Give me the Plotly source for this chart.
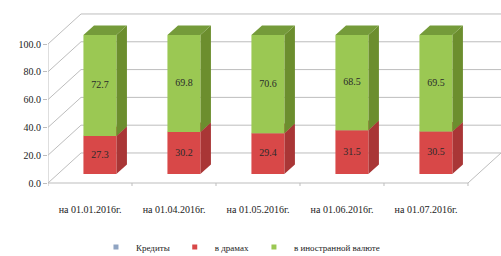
import plotly.graph_objects as go

categories = ["на 01.01.2016г.", "на 01.04.2016г.", "на 01.05.2016г.", "на 01.06.2016г.", "на 01.07.2016г."]
amd_values = [27.3, 30.2, 29.4, 31.5, 30.5]
fx_values = [72.7, 69.8, 70.6, 68.5, 69.5]
series_names = ["Кредиты", "в драмах", "в иностранной валюте"]
y_ticks = [0, 20, 40, 60, 80, 100]

# 3D projection parameters (in axis units)
DX = 0.393   # depth shift along x (category units)
DY = 21.6    # depth shift along y (value units)
F1, F2 = 0.30, 0.62   # bar front/back depth fractions
HW = 0.196   # bar half width

RED_FRONT, RED_SIDE = "#D84848", "#A93636"
GRN_FRONT, GRN_SIDE, GRN_TOP = "#9BC853", "#6C8E2E", "#759B3A"
GRID = "#BDBDBD"
FONT = "Liberation Serif"

def proj(x, v, d):
    return x + d * DX, v + d * DY

def poly(points):
    xs, ys = [], []
    for p in points:
        px, py = proj(*p)
        xs.append(px); ys.append(py)
    return xs, ys

fig = go.Figure()

def add_line(pts, color=GRID, width=1):
    xs, ys = poly(pts)
    fig.add_trace(go.Scatter(x=xs, y=ys, mode="lines", line=dict(color=color, width=width),
                             hoverinfo="skip", showlegend=False, cliponaxis=False))

n = len(categories)
x_left, x_right = -0.5, n - 0.5
# back wall and left wall gridlines
for v in y_ticks:
    add_line([(x_left, v, 0), (x_left, v, 1), (x_right, v, 1)])
# left axis, floor edges
add_line([(x_left, 0, 0), (x_left, 100, 0)])
add_line([(x_left, 0, 0), (x_right, 0, 0), (x_right, 0, 1)])
for i in range(n + 1):
    add_line([(i - 0.5, 0, 0), (i - 0.5, -2.2, 0)])

def add_faces(bases, vals, front, side, top=None):
    fxs, fys, sxs, sys_, txs, tys = [], [], [], [], [], []
    for i, (b, v) in enumerate(zip(bases, vals)):
        t = b + v
        xs, ys = poly([(i - HW, b, F1), (i + HW, b, F1), (i + HW, t, F1), (i - HW, t, F1), (i - HW, b, F1)])
        fxs += xs + [None]; fys += ys + [None]
        xs, ys = poly([(i + HW, b, F1), (i + HW, b, F2), (i + HW, t, F2), (i + HW, t, F1), (i + HW, b, F1)])
        sxs += xs + [None]; sys_ += ys + [None]
        xs, ys = poly([(i - HW, t, F1), (i + HW, t, F1), (i + HW, t, F2), (i - HW, t, F2), (i - HW, t, F1)])
        txs += xs + [None]; tys += ys + [None]
    fig.add_trace(go.Scatter(x=sxs, y=sys_, fill="toself", fillcolor=side, mode="lines",
                             line=dict(width=0, color=side), hoverinfo="skip", showlegend=False))
    fig.add_trace(go.Scatter(x=fxs, y=fys, fill="toself", fillcolor=front, mode="lines",
                             line=dict(width=0, color=front), hoverinfo="skip", showlegend=False))
    if top:
        fig.add_trace(go.Scatter(x=txs, y=tys, fill="toself", fillcolor=top, mode="lines",
                                 line=dict(width=0, color=top), hoverinfo="skip", showlegend=False))

zeros = [0] * n
add_faces(zeros, amd_values, RED_FRONT, RED_SIDE, RED_SIDE)
add_faces(amd_values, fx_values, GRN_FRONT, GRN_SIDE, GRN_TOP)

# data labels
lx, ly, lt = [], [], []
for i in range(n):
    for b, v in ((0, amd_values[i]), (amd_values[i], fx_values[i])):
        px, py = proj(i, b + v / 2, F1)
        lx.append(px); ly.append(py); lt.append(f"{v:.1f}")
fig.add_trace(go.Scatter(x=lx, y=ly, text=lt, mode="text", textfont=dict(family=FONT, size=10, color="#2a2a2a"),
                         hoverinfo="skip", showlegend=False))

# legend entries
for name, col in zip(series_names, ["#8FA4C2", RED_FRONT, GRN_FRONT]):
    fig.add_trace(go.Scatter(x=[None], y=[None], mode="markers", name=name,
                             marker=dict(symbol="square", size=5, color=col)))

fig.update_layout(
    width=501, height=256,
    margin=dict(l=48, r=0, t=5, b=70, autoexpand=False),
    paper_bgcolor="white", plot_bgcolor="white",
    font=dict(family=FONT, color="#222"),
    xaxis=dict(range=[x_left, x_right + DX], tickvals=list(range(n)), ticktext=categories,
               showgrid=False, zeroline=False, showline=False, ticks="", automargin=False,
               tickfont=dict(size=10, family=FONT, color="#222"), ticklabelstandoff=16),
    yaxis=dict(range=[-2.16, 128.06], tickvals=y_ticks, tickformat=".1f", showgrid=False,
               zeroline=False, showline=False, ticks="outside", ticklen=4, tickcolor=GRID,
               automargin=False, tickfont=dict(size=10, family=FONT, color="#222")),
    legend=dict(orientation="h", xref="container", yref="container", x=0.48, y=0.035,
                xanchor="center", yanchor="middle", font=dict(size=9, family=FONT, color="#222"),
                itemwidth=30, tracegroupgap=0),
    showlegend=True,
)

fig.write_html("out.html", config={"displayModeBar": False},
               post_script="document.body.style.margin='0';document.body.style.overflow='hidden';")
